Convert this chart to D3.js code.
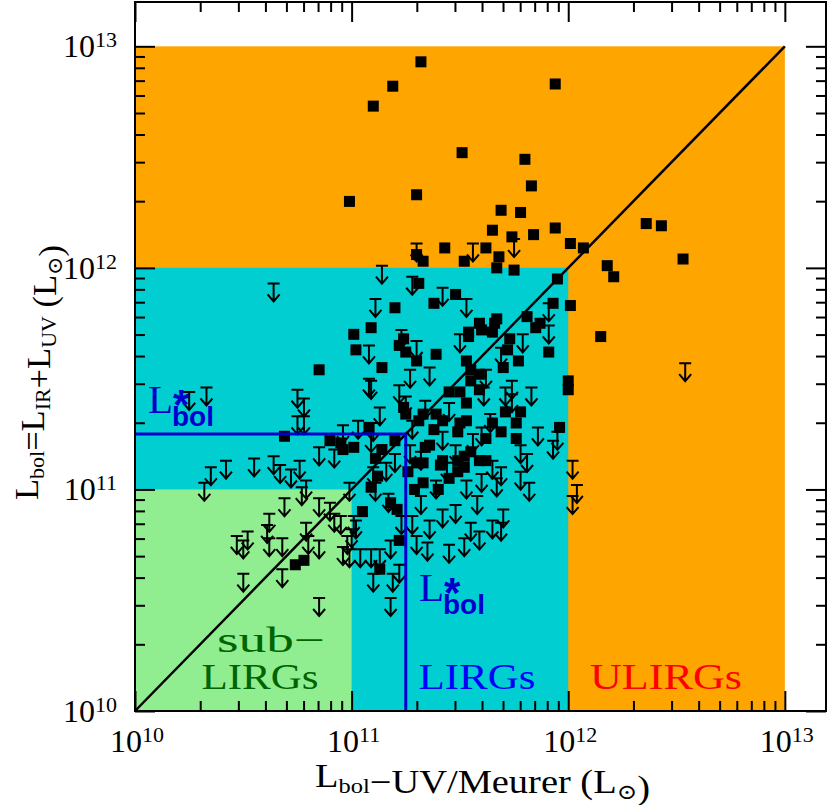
<!doctype html>
<html>
<head>
<meta charset="utf-8"/>
<title>Lbol vs Lbol-UV/Meurer</title>
<script src="https://d3js.org/d3.v7.min.js"></script>
<style>
body { margin: 0; background: #fff; }
</style>
</head>
<body>
<svg id="svg1">Your browser doesn't support SVG.</svg>
<script>
// log10 luminosities in Lsun
// detections (filled squares)
const det_lx = [
    11.32, 11.19, 11.10, 11.94, 11.51, 11.80, 11.83, 11.30, 10.99, 11.69,
    11.78, 11.65, 11.84, 11.94, 11.74, 12.01, 11.43, 11.62, 11.68, 11.52,
    11.30, 11.33, 11.67, 11.75, 11.95, 12.07, 12.36, 12.43, 12.53, 12.18,
    12.21, 11.93, 12.01, 12.15, 11.91, 12.00, 12.00, 11.31, 11.48, 11.38,
    11.20, 11.67, 11.59, 11.54, 11.60, 11.65, 11.54, 11.73, 11.81, 11.87,
    11.09, 11.01, 11.02, 11.24, 11.22, 11.25, 11.39, 11.30, 11.14, 10.85,
    11.53, 11.55, 11.55, 11.59, 11.72, 11.77, 11.70, 11.45, 11.53, 11.59,
    11.24, 11.25, 11.33, 11.39, 11.50, 11.53, 11.71, 11.78, 11.76, 11.65,
    11.69, 11.96, 11.08, 11.38, 11.49, 11.62, 11.76, 10.90, 10.95, 11.01,
    10.96, 11.14, 11.11, 11.34, 11.42, 11.49, 11.30, 11.52, 11.49, 11.26,
    11.33, 11.40, 11.12, 11.09, 10.69, 11.05, 11.13, 11.22, 10.74, 10.78,
    11.18, 11.21, 11.85, 11.66, 11.29, 11.55, 11.59, 11.52, 11.41, 11.33,
    11.31, 11.50, 11.42, 11.62, 11.20, 11.36, 11.45
];
const det_ly = [
    12.93, 12.82, 12.73, 12.83, 12.52, 12.49, 12.37, 12.33, 12.30, 12.26,
    12.25, 12.17, 12.15, 12.18, 12.14, 12.11, 12.09, 12.09, 12.05, 12.03,
    12.06, 12.03, 12.00, 11.99, 11.95, 12.09, 12.20, 12.19, 12.04, 12.01,
    11.96, 11.84, 11.83, 11.69, 11.62, 11.49, 11.45, 11.93, 11.88, 11.84,
    11.82, 11.77, 11.75, 11.71, 11.72, 11.71, 11.69, 11.68, 11.78, 11.75,
    11.73, 11.70, 11.63, 11.68, 11.65, 11.62, 11.61, 11.58, 11.55, 11.54,
    11.58, 11.54, 11.49, 11.52, 11.63, 11.58, 11.55, 11.44, 11.39, 11.45,
    11.37, 11.34, 11.34, 11.34, 11.30, 11.31, 11.35, 11.35, 11.30, 11.30,
    11.26, 11.28, 11.28, 11.27, 11.26, 11.23, 11.23, 11.22, 11.21, 11.19,
    11.18, 11.18, 11.14, 11.19, 11.13, 11.13, 11.12, 11.10, 11.08, 11.08,
    11.03, 11.00, 11.06, 11.01, 11.24, 10.90, 10.64, 10.77, 10.66, 10.68,
    10.94, 10.91, 11.73, 11.75, 11.00, 11.17, 11.13, 11.15, 11.11, 11.12,
    11.31, 11.44, 11.31, 11.13, 11.22, 11.20, 11.05
];
// upper limits (arrows)
const lim_lx = [
    11.75, 11.56, 11.30, 11.14, 11.28, 10.64, 11.42, 11.53, 11.11, 11.23,
    11.30, 11.50, 11.08, 11.69, 11.79, 11.91, 11.91, 11.27, 11.36, 11.08,
    11.09, 11.22, 11.25, 11.62, 11.74, 11.71, 11.83, 11.61, 10.78, 10.78,
    11.34, 11.45, 11.13, 10.96, 11.03, 11.64, 11.86, 11.95, 11.93, 10.85,
    10.92, 11.09, 11.60, 11.65, 11.69, 11.78, 11.81, 12.02, 12.04, 12.02,
    11.44, 11.53, 10.79, 11.16, 10.99, 10.25, 10.33, 10.75, 10.75, 11.10,
    10.35, 10.42, 10.55, 10.64, 10.67, 10.76, 10.72, 10.32, 10.69, 10.77,
    10.85, 10.62, 10.61, 10.79, 10.90, 10.92, 10.95, 10.52, 10.47, 10.50,
    10.62, 10.68, 10.80, 10.85, 10.96, 10.99, 10.98, 11.04, 10.50, 10.68,
    10.85, 11.02, 11.11, 11.09, 11.10, 11.13, 11.18, 11.19, 11.18, 11.22,
    11.17, 11.32, 11.28, 11.45, 11.52, 11.59, 11.65, 11.70, 11.69, 11.55,
    11.48, 11.42, 11.36, 11.30, 11.00, 11.82, 11.67, 11.58, 11.01, 12.54,
    11.28, 11.42, 11.32, 11.56, 11.10, 11.23, 11.35, 11.74, 11.60, 11.78,
    11.20, 11.48, 11.27, 11.39
];
const lim_ly = [
    12.13, 12.11, 12.11, 12.01, 11.96, 11.93, 11.91, 11.86, 11.86, 11.72,
    11.67, 11.70, 11.65, 11.64, 11.70, 11.84, 11.74, 11.54, 11.55, 11.50,
    11.49, 11.47, 11.42, 11.54, 11.49, 11.46, 11.46, 11.46, 11.41, 11.33,
    11.40, 11.39, 11.37, 11.29, 11.31, 11.34, 11.28, 11.26, 11.22, 11.19,
    11.18, 11.25, 11.07, 11.13, 11.10, 11.08, 11.16, 11.13, 11.02, 10.97,
    11.12, 11.04, 11.04, 11.12, 11.03, 11.44, 11.46, 11.45, 11.33, 11.30,
    11.10, 11.13, 11.14, 11.15, 11.11, 11.13, 11.09, 11.03, 10.96, 11.01,
    10.96, 10.89, 10.84, 10.85, 10.94, 10.89, 10.88, 10.81, 10.79, 10.77,
    10.78, 10.78, 10.79, 10.77, 10.74, 10.73, 10.79, 10.73, 10.62, 10.64,
    10.51, 10.86, 11.03, 10.73, 10.62, 10.73, 10.77, 10.62, 10.51, 10.66,
    10.98, 10.97, 10.88, 10.75, 10.78, 10.81, 10.86, 10.91, 10.85, 10.85,
    10.93, 10.91, 10.86, 10.79, 10.82, 11.03, 11.05, 10.97, 10.88, 11.57,
    11.31, 11.26, 11.17, 11.25, 11.10, 10.88, 10.76, 11.43, 11.28, 11.20,
    11.16, 11.20, 11.20, 11.04
];

const lstar = Math.pow(10, 11.25);              // L*bol
const region_top = [1e13, 1e12, 1e11];          // ULIRG, LIRG, sub-LIRG boxes
const region_fill = ['#ffa500', '#00ced1', '#90ee90'];
const decades = [1e10, 1e11, 1e12, 1e13];
const decade_exp = ['10', '11', '12', '13'];

const W = 830, H = 805;
const x0 = 135, x1 = 826, y0 = 711, y1 = 2;
const blue = '#0000cd';
const serif = '"Liberation Serif", "DejaVu Serif", serif';
const sans_bold = 'bold 28px "Liberation Sans", sans-serif';

const svg = d3.select('#svg1').attr('width', W).attr('height', H);

const x = d3.scaleLog().domain([1e10, Math.pow(10, 13.19)]).range([x0, x1]);
const y = d3.scaleLog().domain([1e10, Math.pow(10, 13.2)]).range([y0, y1]);

// coloured luminosity classes
svg.append('g').selectAll('rect')
    .data(region_top)
    .join('rect')
    .attr('x', x(1e10))
    .attr('y', d => y(d))
    .attr('width', d => x(d) - x(1e10))
    .attr('height', d => y(1e10) - y(d))
    .attr('fill', (d, i) => region_fill[i]);

// upper limits
const lims = lim_lx.map((v, i) => [x(Math.pow(10, v)), y(Math.pow(10, lim_ly[i]))]);
svg.append('g').selectAll('path')
    .data(lims)
    .join('path')
    .attr('d', d => {
        let cx = d[0], cy = d[1];
        return `M${cx - 6},${cy}H${cx + 6}M${cx},${cy}V${cy + 18}` +
            `M${cx - 6},${cy + 11}L${cx},${cy + 18}L${cx + 6},${cy + 11}`;
    })
    .attr('fill', 'none')
    .attr('stroke', '#000')
    .attr('stroke-width', 2);

// detections
const dets = det_lx.map((v, i) => [x(Math.pow(10, v)), y(Math.pow(10, det_ly[i]))]);
svg.append('g').selectAll('rect')
    .data(dets)
    .join('rect')
    .attr('x', d => d[0] - 5.5)
    .attr('y', d => d[1] - 5.5)
    .attr('width', 11)
    .attr('height', 11)
    .attr('fill', '#000');

function draw_line(x1_, y1_, x2_, y2_, color, w) {
    svg.append('line')
        .attr('x1', x1_).attr('y1', y1_)
        .attr('x2', x2_).attr('y2', y2_)
        .attr('stroke', color)
        .attr('stroke-width', w);
}

// one-to-one line
draw_line(x(1e10), y(1e10), x(1e13), y(1e13), '#000', 2.5);
// L*bol lines
draw_line(x(1e10), y(lstar), x(lstar), y(lstar), blue, 3);
draw_line(x(lstar), y(1e10), x(lstar), y(lstar), blue, 3);

// L*bol labels, one text element each
function lstar_label(lx, base) {
    let t = svg.append('text').attr('x', lx).attr('y', base)
        .attr('fill', blue)
        .style('font', '41px ' + serif);
    t.append('tspan').text('L');
    t.append('tspan').attr('x', lx + 25).attr('dy', 6)
        .style('font', 'bold 42px "Liberation Sans", sans-serif')
        .text('*');
    t.append('tspan').attr('x', lx + 24).attr('dy', 7)
        .style('font', sans_bold)
        .text('bol');
}
lstar_label(148, 413);
lstar_label(419, 601);

// region names
function region_label(txt, cx, base, len, color) {
    svg.append('text')
        .attr('x', cx - len / 2).attr('y', base)
        .attr('textLength', len)
        .attr('lengthAdjust', 'spacingAndGlyphs')
        .attr('fill', color)
        .style('font', '35px ' + serif)
        .text(txt);
}
region_label('sub\u2212', 271, 652, 108, '#006400');
region_label('LIRGs', 260, 689, 117, '#006400');
region_label('LIRGs', 477, 689, 117, '#0000ff');
region_label('ULIRGs', 666, 689, 152, '#ff0000');

// ticks on all four sides, pointing inwards
const minor_x = x.ticks().filter(v => !decades.includes(v));
const minor_y = y.ticks().filter(v => !decades.includes(v));

function add_ticks(axis, tr, values, size) {
    svg.append('g')
        .attr('transform', tr)
        .call(axis.tickValues(values).tickSize(-size).tickFormat(''))
        .call(g => g.select('.domain').remove())
        .selectAll('line')
        .attr('stroke', '#000')
        .attr('stroke-width', 2);
}
add_ticks(d3.axisBottom(x), `translate(0,${y0})`, decades, 20);
add_ticks(d3.axisBottom(x), `translate(0,${y0})`, minor_x, 10);
add_ticks(d3.axisTop(x), `translate(0,${y1})`, decades, 20);
add_ticks(d3.axisTop(x), `translate(0,${y1})`, minor_x, 10);
add_ticks(d3.axisLeft(y), `translate(${x0},0)`, decades, 20);
add_ticks(d3.axisLeft(y), `translate(${x0},0)`, minor_y, 10);
add_ticks(d3.axisRight(y), `translate(${x1},0)`, decades, 20);
add_ticks(d3.axisRight(y), `translate(${x1},0)`, minor_y, 10);

// frame
svg.append('rect')
    .attr('x', x0).attr('y', y1)
    .attr('width', x1 - x0).attr('height', y0 - y1)
    .attr('fill', 'none')
    .attr('stroke', '#000')
    .attr('stroke-width', 2);

// tick labels 10^n
function power_label(px, py, anchor, i) {
    let t = svg.append('text')
        .attr('x', px).attr('y', py)
        .attr('text-anchor', anchor)
        .style('font', '32px ' + serif);
    t.append('tspan').text('10');
    t.append('tspan').attr('dy', -10).style('font-size', '22px').text(decade_exp[i]);
}
decades.forEach((d, i) => power_label(x(d) + 2, y0 + 41, 'middle', i));
decades.forEach((d, i) => power_label(117, y(d) + 11, 'end', i));

// axis titles
function sub_text(t, main, sub) {
    t.append('tspan').text(main);
    t.append('tspan').attr('dy', 6).style('font-size', '21px').text(sub);
    t.append('tspan').attr('dy', -6).text('');
}

let xt = svg.append('text')
    .attr('x', 315).attr('y', 787)
    .attr('textLength', 335)
    .attr('lengthAdjust', 'spacingAndGlyphs')
    .style('font', '33px ' + serif);
sub_text(xt, 'L', 'bol');
sub_text(xt, '\u2212UV/Meurer (L', '\u2299');
xt.append('tspan').text(')');

let yt = svg.append('text')
    .attr('transform', 'translate(38,500) rotate(-90)')
    .attr('textLength', 255)
    .attr('lengthAdjust', 'spacingAndGlyphs')
    .style('font', '33px ' + serif);
sub_text(yt, 'L', 'bol');
sub_text(yt, '=L', 'IR');
sub_text(yt, '+L', 'UV');
sub_text(yt, '  (L', '\u2299');
yt.append('tspan').text(')');
</script>
</body>
</html>
